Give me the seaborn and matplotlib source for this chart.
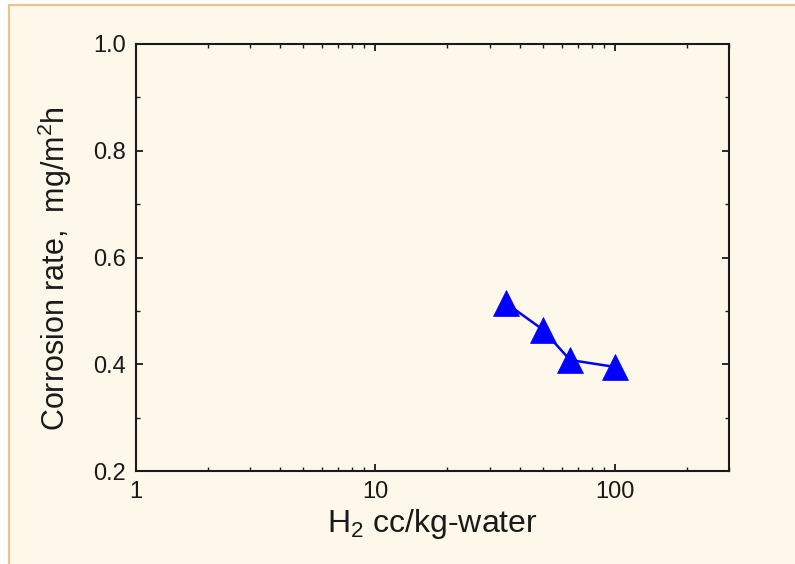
import matplotlib
matplotlib.use("Agg")
import matplotlib.pyplot as plt
from matplotlib.ticker import LogLocator, FixedLocator, MultipleLocator, NullFormatter
from matplotlib.lines import Line2D
import seaborn as sns
import pandas as pd

# data
h2_conc = [35, 50, 65, 100]                    # H2 cc/kg-water
corrosion_rate = [0.515, 0.465, 0.408, 0.395]  # mg/m^2 h
x_ticks = [1, 10, 100]
x_ticklabels = ["1", "10", "100"]
y_ticks = [0.2, 0.4, 0.6, 0.8, 1.0]
y_ticklabels = ["0.2", "0.4", "0.6", "0.8", "1.0"]

cream = "#FDF8EA"
border = "#E9C58E"
ink = "#1a1a1a"

sns.set_style("ticks")
plt.rcParams["font.family"] = ["Liberation Sans", "DejaVu Sans"]
plt.rcParams["mathtext.default"] = "regular"

fig = plt.figure(figsize=(7.95, 5.64), dpi=100, facecolor="white")
# cream panel with orange border on top and left
fig.patches.append(matplotlib.patches.Rectangle((9 / 795, 0), 1, 1 - 5 / 564,
                                                transform=fig.transFigure,
                                                facecolor=cream, edgecolor="none", zorder=-10))
fig.lines.append(Line2D([9 / 795, 1], [1 - 5 / 564, 1 - 5 / 564], transform=fig.transFigure,
                        color=border, lw=1.6))
fig.lines.append(Line2D([9 / 795, 9 / 795], [0, 1 - 5 / 564], transform=fig.transFigure,
                        color=border, lw=1.6))

ax = fig.add_axes([136 / 795, 1 - 471 / 564, (729 - 136) / 795, (471 - 44) / 564])
ax.set_facecolor(cream)

df = pd.DataFrame({"x": h2_conc, "y": corrosion_rate})
sns.lineplot(data=df, x="x", y="y", ax=ax, color="#0000FF", lw=1.8,
             marker="^", markersize=19, markeredgecolor="#0000FF", markeredgewidth=0.5)

ax.set_xscale("log")
ax.set_xlim(1, 300)
ax.set_ylim(0.2, 1.0)

ax.xaxis.set_major_locator(FixedLocator(x_ticks))
ax.set_xticklabels(x_ticklabels)
ax.xaxis.set_minor_locator(LogLocator(base=10, subs=range(2, 10)))
ax.xaxis.set_minor_formatter(NullFormatter())
ax.yaxis.set_major_locator(FixedLocator(y_ticks))
ax.set_yticklabels(y_ticklabels)
ax.yaxis.set_minor_locator(MultipleLocator(0.1))

for s in ax.spines.values():
    s.set_linewidth(1.5)
    s.set_color(ink)

ax.tick_params(which="both", direction="in", top=True, right=True, color=ink,
               labelsize=17, labelcolor=ink)
ax.tick_params(which="major", length=5, width=1.3, pad=7)
ax.tick_params(which="minor", length=3, width=1.0)

ax.set_xlabel("H$_2$ cc/kg-water", fontsize=23, color=ink, labelpad=3)
ax.set_ylabel("Corrosion rate,  mg/m$^2$h", fontsize=22, color=ink)
ax.yaxis.set_label_coords(-0.104, 0.475)

fig.savefig("out.png", dpi=100, facecolor="white")
